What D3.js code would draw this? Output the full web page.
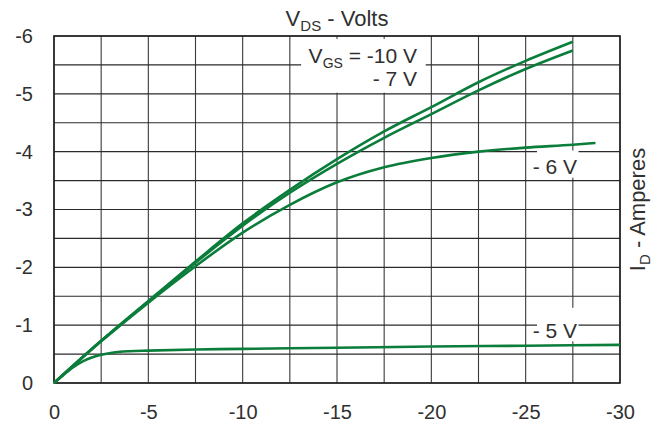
<!DOCTYPE html>
<html>
<head>
<meta charset="utf-8">
<script src="https://cdn.jsdelivr.net/npm/d3@7"></script>
<style>
  html, body { margin: 0; padding: 0; background: #fff; }
  svg { display: block; font-family: "Liberation Sans", Arial, sans-serif; }
</style>
</head>
<body>
<svg id="chart" width="663" height="429"></svg>
<script>
// ---- data (V_DS in volts, I_D in amperes) ----
const vds10 = [0, -2.5, -5, -7.5, -10, -12.5, -15, -17.5, -20, -22.5, -25, -27.5];
const id10  = [0, -0.73, -1.42, -2.1, -2.76, -3.34, -3.87, -4.35, -4.77, -5.2, -5.57, -5.9];

const vds7 = [0, -2.5, -5, -7.5, -10, -12.5, -15, -17.5, -20, -22.5, -25, -27.5];
const id7  = [0, -0.73, -1.41, -2.08, -2.72, -3.29, -3.79, -4.24, -4.65, -5.06, -5.43, -5.75];

const vds6 = [0, -2.5, -5, -7.5, -10, -12.5, -15, -17.5, -20, -22.5, -25, -27.5, -28.7];
const id6  = [0, -0.72, -1.39, -2.02, -2.6, -3.08, -3.47, -3.73, -3.89, -4.0, -4.07, -4.12, -4.15];

const vds5 = [0, -0.5, -1, -1.5, -2, -2.5, -3, -3.5, -4, -5, -7.5, -10, -15, -20, -25, -30];
const id5  = [0, -0.14, -0.27, -0.37, -0.44, -0.49, -0.52, -0.54, -0.55, -0.56, -0.58, -0.59, -0.61, -0.63, -0.645, -0.66];

const xTicks = [0, -5, -10, -15, -20, -25, -30];
const yTicks = [0, -1, -2, -3, -4, -5, -6];
const xGrid = d3.range(0, -30.01, -2.5);
const yGrid = d3.range(0, -6.01, -0.5);

const seriesLabels = ["V_GS = -10 V", "- 7 V", "- 6 V", "- 5 V"];

// ---- layout ----
const svg = d3.select("#chart");
const L = 54, R = 620, T = 36, B = 383;
const x = d3.scaleLinear().domain([0, -30]).range([L, R]);
const y = d3.scaleLinear().domain([0, -6]).range([B, T]);
const green = "#0b7d3b";
const ink = "#303030";
const fmt = d => String(d);   // plain hyphen-minus, as in the reference

// grid
const g = svg.append("g");
g.selectAll("line.v").data(xGrid).join("line")
  .attr("x1", d => x(d)).attr("x2", d => x(d))
  .attr("y1", T).attr("y2", B)
  .attr("stroke", "#3a3a3a").attr("stroke-width", 1.1);
g.selectAll("line.h").data(yGrid).join("line")
  .attr("x1", L).attr("x2", R)
  .attr("y1", d => y(d)).attr("y2", d => y(d))
  .attr("stroke", "#2a2a2a").attr("stroke-width", 1.1);

// frame
svg.append("rect").attr("x", L).attr("y", T).attr("width", R - L).attr("height", B - T)
  .attr("fill", "none").attr("stroke", "#222").attr("stroke-width", 1.6);

// label background boxes (cover grid)
function box(x0, y0, x1, y1) {
  svg.append("rect").attr("x", x0).attr("y", y0).attr("width", x1 - x0).attr("height", y1 - y0)
    .attr("fill", "#fff");
}
box(x(-13.1), y(-5.95), x(-19.7), y(-5.02));
box(x(-25.6), y(-4.02), x(-27.8), y(-3.55));
box(x(-25.6), y(-1.3), x(-27.8), y(-0.72));

// curves
const line = d3.line().x(d => x(d[0])).y(d => y(d[1])).curve(d3.curveMonotoneX);
const series = [[vds10, id10], [vds7, id7], [vds6, id6], [vds5, id5]];
svg.selectAll("path.curve").data(series).join("path")
  .attr("class", "curve")
  .attr("d", s => line(s[0].map((v, i) => [v, s[1][i]])))
  .attr("fill", "none").attr("stroke", green).attr("stroke-width", 2.6)
  .attr("stroke-linejoin", "round");

// axes tick labels
const axX = d3.axisBottom(x).tickValues(xTicks).tickSize(0).tickPadding(0).tickFormat(fmt);
svg.append("g").attr("transform", `translate(0,${B + 22})`).call(axX)
  .call(a => a.select(".domain").remove())
  .selectAll("text").attr("font-size", 20).attr("fill", ink)
  .attr("font-family", "'Liberation Sans', Arial, sans-serif").attr("dy", "0.71em");

const axY = d3.axisLeft(y).tickValues(yTicks).tickSize(0).tickPadding(0).tickFormat(fmt);
svg.append("g").attr("transform", `translate(${L - 21},0)`).call(axY)
  .call(a => a.select(".domain").remove())
  .selectAll("text").attr("font-size", 20).attr("fill", ink)
  .attr("font-family", "'Liberation Sans', Arial, sans-serif");

// title
const title = svg.append("text").attr("x", (L + R) / 2).attr("y", 26)
  .attr("text-anchor", "middle").attr("font-size", 22).attr("fill", ink);
title.append("tspan").text("V");
title.append("tspan").attr("font-size", 15).attr("dy", 5).text("DS");
title.append("tspan").attr("dy", -5).text(" - Volts");

// right axis label
const yl = svg.append("text").attr("transform", `translate(645,${(T + B) / 2}) rotate(-90)`)
  .attr("text-anchor", "middle").attr("font-size", 22).attr("fill", ink);
yl.append("tspan").text("I");
yl.append("tspan").attr("font-size", 15).attr("dy", 5).text("D");
yl.append("tspan").attr("dy", -5).text(" - Amperes");

// series labels
const lab = svg.append("text").attr("x", 417).attr("y", 63).attr("text-anchor", "end")
  .attr("font-size", 21).attr("fill", ink);
lab.append("tspan").text("V");
lab.append("tspan").attr("font-size", 14).attr("dy", 5).text("GS");
lab.append("tspan").attr("dy", -5).text(" = -10 V");
svg.append("text").attr("x", 417).attr("y", 86).attr("text-anchor", "end")
  .attr("font-size", 21).attr("fill", ink).text(seriesLabels[1]);
svg.append("text").attr("x", 577).attr("y", 174).attr("text-anchor", "end")
  .attr("font-size", 21).attr("fill", ink).text(seriesLabels[2]);
svg.append("text").attr("x", 577).attr("y", 338).attr("text-anchor", "end")
  .attr("font-size", 21).attr("fill", ink).text(seriesLabels[3]);
</script>
</body>
</html>
